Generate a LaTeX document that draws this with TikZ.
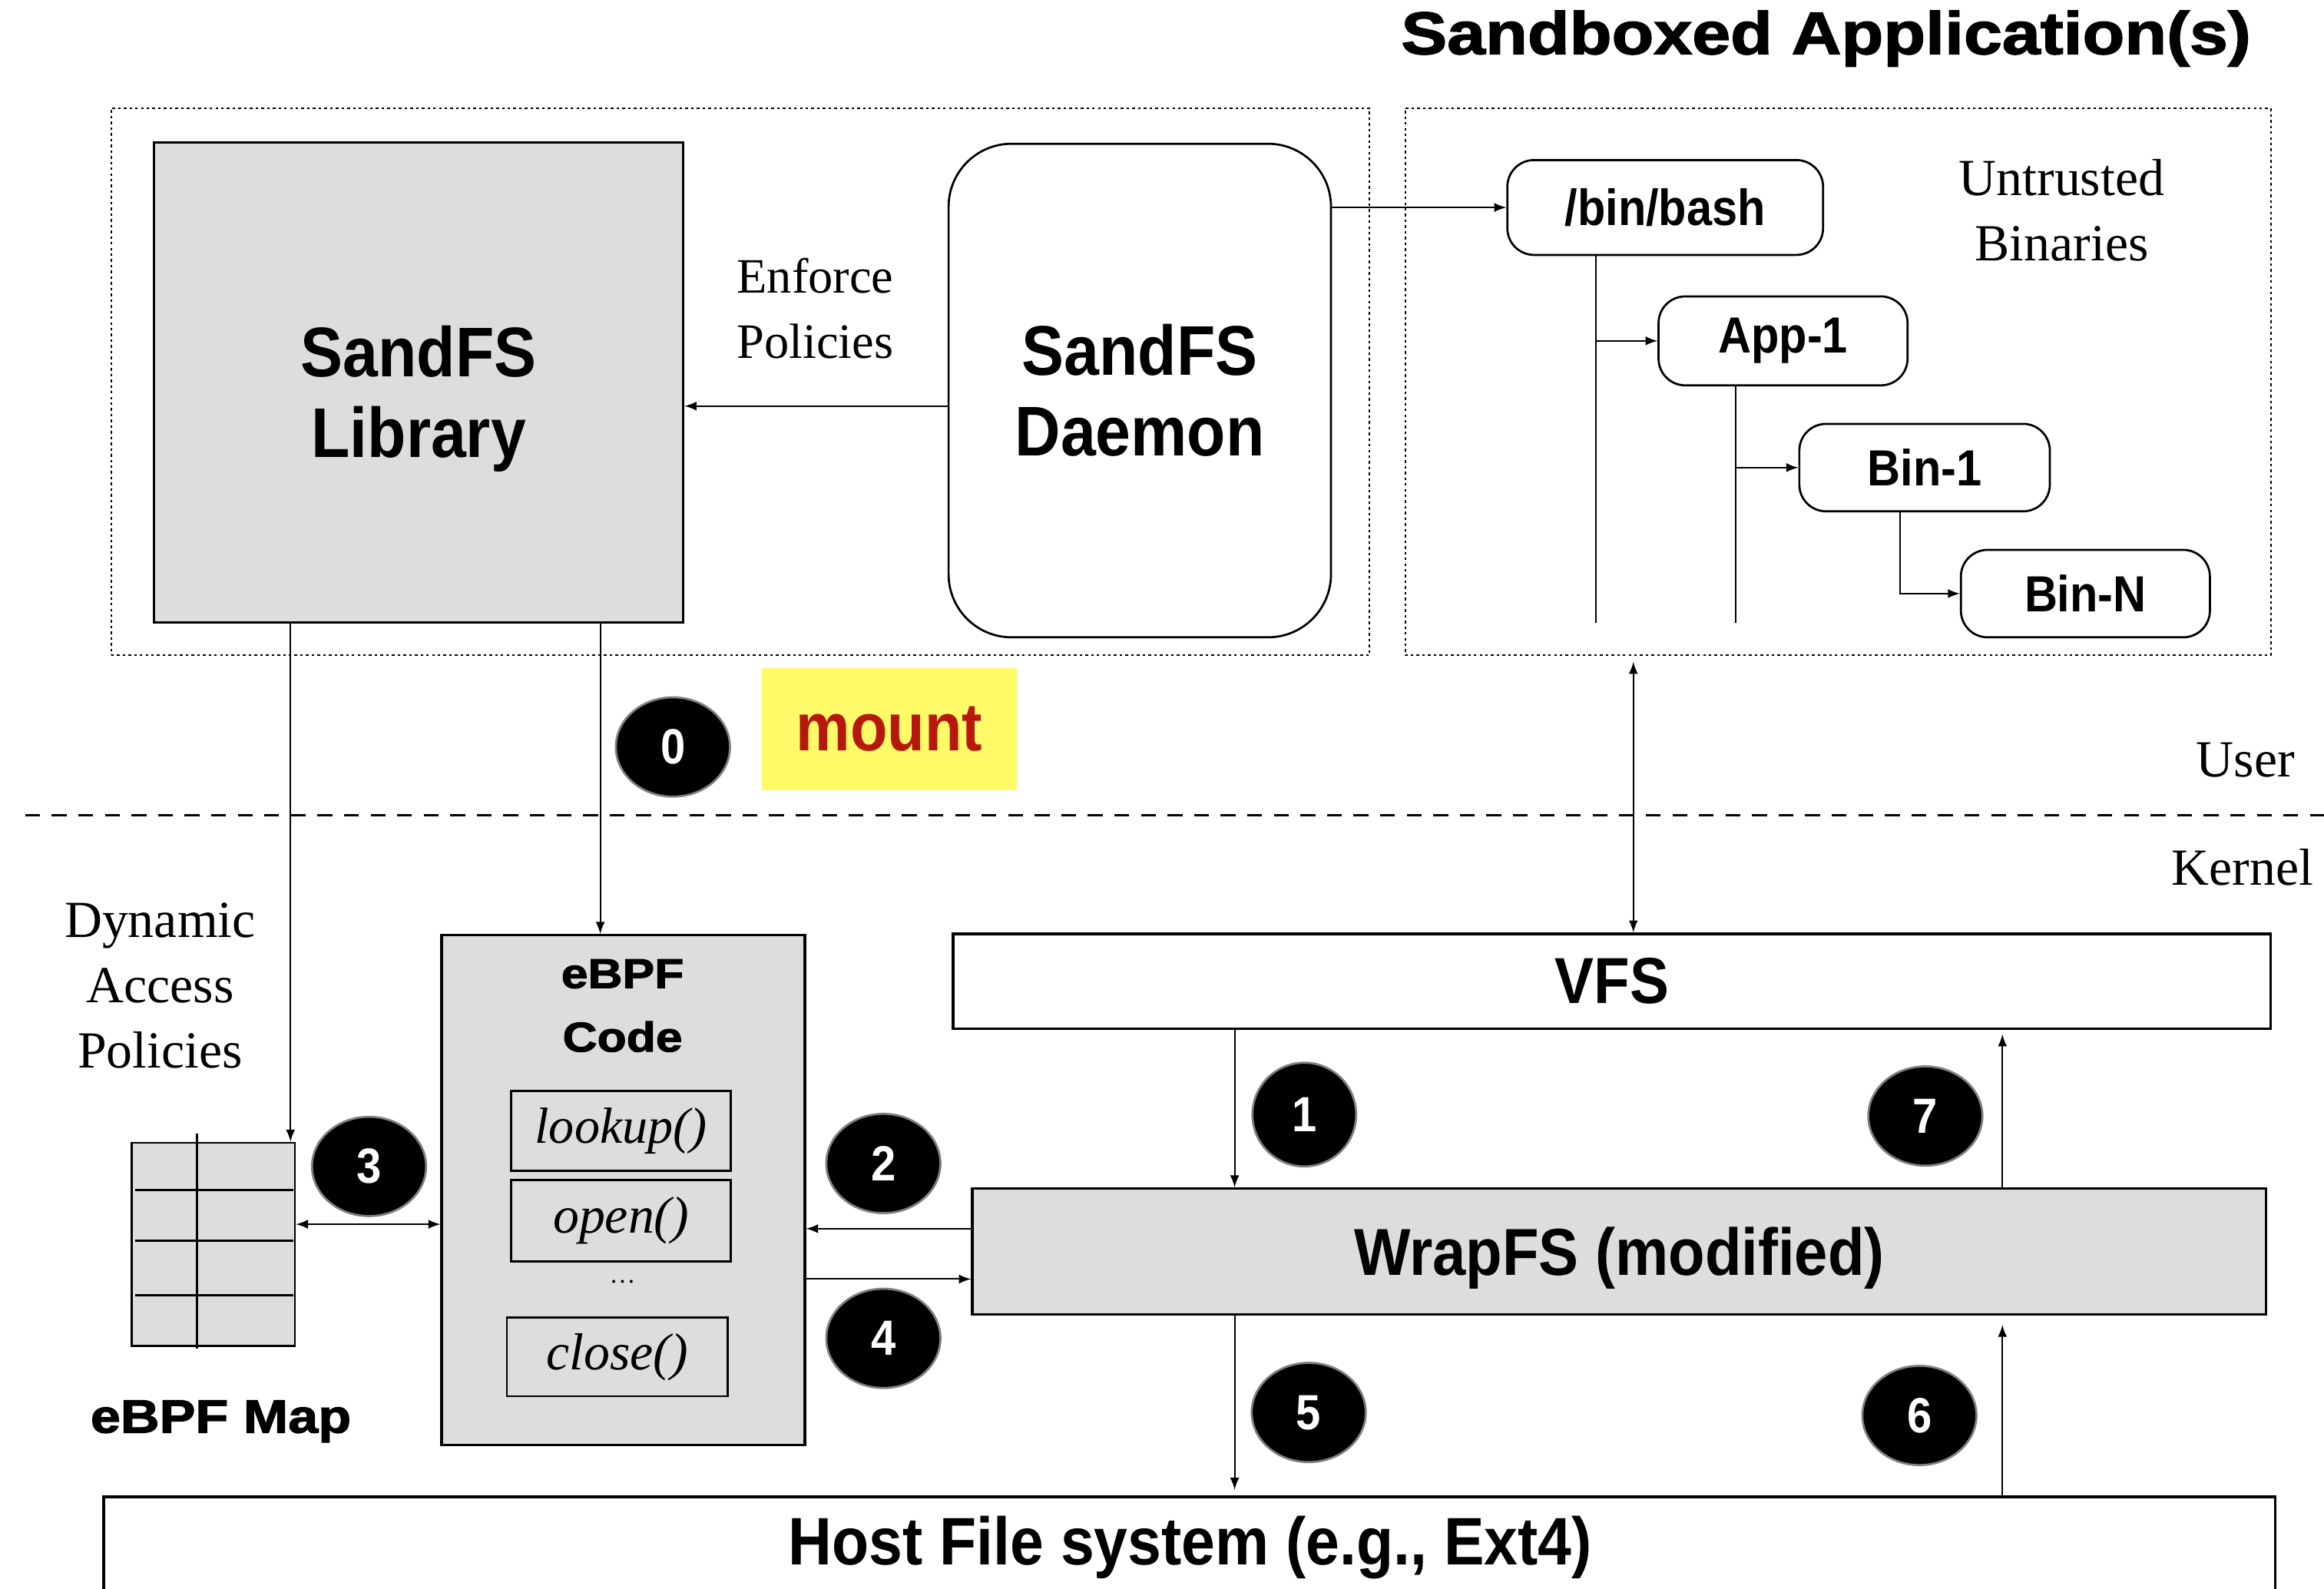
\documentclass[tikz,border=0pt]{standalone}
\usepackage{fontspec}
\setmainfont{Liberation Serif}
\newfontfamily\boxfont{Liberation Sans}[FakeStretch=0.9]
\newfontfamily\heavyfont{Liberation Sans}[FakeStretch=1.15,BoldFeatures={FakeBold=2}]
\usetikzlibrary{shapes.geometric}
\definecolor{boxgray}{RGB}{220,221,223}
\definecolor{mountyellow}{RGB}{255,250,104}
\definecolor{mountred}{RGB}{183,24,12}
\tikzset{
  dotbox/.style={draw, line width=0.6pt, dash pattern=on 1pt off 1.2pt, inner sep=0},
  graybox/.style={draw, line width=1pt, fill=boxgray, inner sep=0, align=center},
  plainbox/.style={draw, line width=1pt, inner sep=0, align=center},
  roundbox/.style={draw, line width=0.8pt, inner sep=0, align=center},
  stepnum/.style={ellipse, fill=black, draw=gray, line width=0.8pt, text=white, inner sep=0,
    minimum width=1.54cm, minimum height=1.34cm, font=\boxfont\bfseries\fontsize{19}{19}\selectfont},
  conn/.style={line width=0.6pt},
}

\begin{document}
\begin{tikzpicture}
  \useasboundingbox (0,0) rectangle (31.36,21.44);

  \node[font=\heavyfont\bfseries\fontsize{23}{26}\selectfont] (title) at (24.64,20.92) {Sandboxed Application(s)};
  \node[dotbox, minimum width=16.98cm, minimum height=7.38cm] (userbox) at (9.99,16.29) {};
  \node[dotbox, minimum width=11.68cm, minimum height=7.38cm] (appbox) at (24.80,16.29) {};

  \node[graybox, minimum width=7.14cm, minimum height=6.48cm] (lib) at (5.65,16.28) {};
  \node[align=center, font=\boxfont\bfseries\fontsize{27}{31}\selectfont] (libtext) at (5.65,16.06) {SandFS\\Library};
  \node[roundbox, rounded corners=0.85cm, minimum width=5.16cm, minimum height=6.66cm, font=\boxfont\bfseries\fontsize{27}{31}\selectfont] (daemon) at (15.38,16.17) {SandFS\\Daemon};
  \node[align=center, font=\fontsize{19}{25}\selectfont] (enforce) at (11.00,17.28) {Enforce\\Policies};
  \coordinate (enfy) at (0,15.96);
  \draw[conn,-latex] (daemon.west |- enfy) -- (lib.east |- enfy);

  \node[roundbox, rounded corners=0.36cm, minimum width=4.26cm, minimum height=1.28cm, font=\boxfont\bfseries\fontsize{19.5}{22}\selectfont] (bash) at (22.47,18.64) {/bin/bash};
  \node[roundbox, rounded corners=0.36cm, minimum width=3.36cm, minimum height=1.2cm, font=\boxfont\bfseries\fontsize{19.5}{22}\selectfont] (app) at (24.06,16.84) {App-1};
  \node[roundbox, rounded corners=0.36cm, minimum width=3.38cm, minimum height=1.18cm, font=\boxfont\bfseries\fontsize{19.5}{22}\selectfont] (bin1) at (25.97,15.13) {Bin-1};
  \node[roundbox, rounded corners=0.36cm, minimum width=3.36cm, minimum height=1.18cm, font=\boxfont\bfseries\fontsize{19.5}{22}\selectfont] (binN) at (28.14,13.43) {Bin-N};
  \node[align=center, font=\fontsize{20}{25}\selectfont] (untrusted) at (27.82,18.60) {Untrusted\\Binaries};
  \draw[conn,-latex] (daemon.east |- bash.west) -- (bash.west);

  \coordinate (trunkA) at (21.54,13.04);
  \coordinate (trunkB) at (23.42,13.04);
  \coordinate (trunkC) at (25.64,13.36);
  \draw[conn] (bash.south -| trunkA) -- (trunkA);
  \draw[conn,-latex] (trunkA |- app.west) -- (app.west);
  \draw[conn] (app.south -| trunkB) -- (trunkB);
  \draw[conn,-latex] (trunkB |- bin1.west) -- (bin1.west);
  \draw[conn,-latex] (bin1.south -| trunkC) |- (binN.west);

  \coordinate (splitW) at (0.34,10.44);
  \coordinate (splitE) at (31.36,10.44);
  \draw[line width=0.7pt, dash pattern=on 5.7pt off 4.5pt] (splitW) -- (splitE);
  \node[font=\fontsize{20}{24}\selectfont] (user) at (30.30,11.18) {User};
  \node[anchor=east, font=\fontsize{20}{24}\selectfont] (kernel) at (31.34,9.74) {Kernel};

  \node[stepnum] (s0) at (9.08,11.36) {0};
  \node[fill=mountyellow, minimum width=3.44cm, minimum height=1.64cm, text=mountred, font=\boxfont\bfseries\fontsize{26}{28}\selectfont] (mount) at (12.00,11.60) {mount};

  \node[draw, fill=boxgray, line width=0.8pt, minimum width=2.2cm, minimum height=2.74cm, inner sep=0] (map) at (2.88,4.65) {};
  \draw[line width=0.8pt] (2.66,6.14) -- (2.66,3.24);
  \foreach \y in {5.38,4.70,3.96}
    \draw[line width=0.8pt] (1.82,\y) -- (3.96,\y);
  \node[font=\heavyfont\bfseries\fontsize{18}{20}\selectfont] (maplabel) at (2.98,2.26) {eBPF Map};
  \node[align=center, font=\fontsize{20}{25}\selectfont] (dynamic) at (2.16,8.14) {Dynamic\\Access\\Policies};

  \node[graybox, minimum width=4.90cm, minimum height=6.88cm] (code) at (8.41,5.38) {};
  \node[align=center, font=\heavyfont\bfseries\fontsize{16}{24.4}\selectfont] (codetitle) at (8.40,7.87) {eBPF\\Code};
  \node[plainbox, line width=0.8pt, minimum width=2.96cm, minimum height=1.08cm, font=\itshape\fontsize{19.5}{22}\selectfont] (lookup) at (8.38,6.18) {lookup()};
  \node[plainbox, line width=0.8pt, minimum width=2.96cm, minimum height=1.10cm, font=\itshape\fontsize{20}{22}\selectfont] (open) at (8.38,4.97) {open()};
  \node[font=\fontsize{10}{10}\selectfont] (more) at (8.40,4.14) {\dots};
  \node[plainbox, line width=0.8pt, minimum width=2.98cm, minimum height=1.06cm, font=\itshape\fontsize{20}{22}\selectfont] (close) at (8.33,3.13) {close()};

  \coordinate (tapA) at (3.92,0);
  \coordinate (tapB) at (8.10,0);
  \draw[conn,-latex] (lib.south -| tapA) -- (map.north -| tapA);
  \draw[conn,-latex] (lib.south -| tapB) -- (code.north -| tapB);

  \node[plainbox, minimum width=17.78cm, minimum height=1.28cm, font=\boxfont\bfseries\fontsize{25}{28}\selectfont] (vfs) at (21.75,8.20) {VFS};
  \node[graybox, minimum width=17.46cm, minimum height=1.70cm] (wrap) at (21.85,4.55) {};
  \node[font=\boxfont\bfseries\fontsize{25.5}{28}\selectfont] (wraptext) at (21.85,4.46) {WrapFS (modified)};
  \node[plainbox, minimum width=29.30cm, minimum height=3cm] (host) at (16.05,-0.26) {};
  \node[font=\boxfont\bfseries\fontsize{25.8}{28}\selectfont] (hostlabel) at (16.06,0.56) {Host File system (e.g., Ext4)};

  \coordinate (lvl3) at (0,4.92);
  \coordinate (req) at (0,4.86);
  \coordinate (resp) at (0,4.18);
  \draw[conn,latex-latex] (map.east |- lvl3) -- (code.west |- lvl3);
  \draw[conn,-latex] (wrap.west |- req) -- (code.east |- req);
  \draw[conn,-latex] (code.east |- resp) -- (wrap.west |- resp);

  \coordinate (sys) at (22.04,0);
  \coordinate (down) at (16.66,0);
  \coordinate (up) at (27.02,0);
  \draw[conn,latex-latex,shorten <=0.08cm] (appbox.south -| sys) -- (vfs.north -| sys);
  \draw[conn,-latex] (vfs.south -| down) -- (wrap.north -| down);
  \draw[conn,-latex,shorten >=0.06cm] (wrap.north -| up) -- (vfs.south -| up);
  \draw[conn,-latex,shorten >=0.08cm] (wrap.south -| down) -- (host.north -| down);
  \draw[conn,-latex,shorten >=0.12cm] (host.north -| up) -- (wrap.south -| up);

  \node[stepnum] (s3) at (4.98,5.70) {3};
  \node[stepnum] (s2) at (11.92,5.74) {2};
  \node[stepnum] (s4) at (11.92,3.38) {4};
  \node[stepnum, minimum width=1.40cm, minimum height=1.40cm] (s1) at (17.60,6.40) {1};
  \node[stepnum] (s7) at (25.98,6.38) {7};
  \node[stepnum] (s5) at (17.66,2.38) {5};
  \node[stepnum] (s6) at (25.90,2.34) {6};
\end{tikzpicture}
\end{document}
